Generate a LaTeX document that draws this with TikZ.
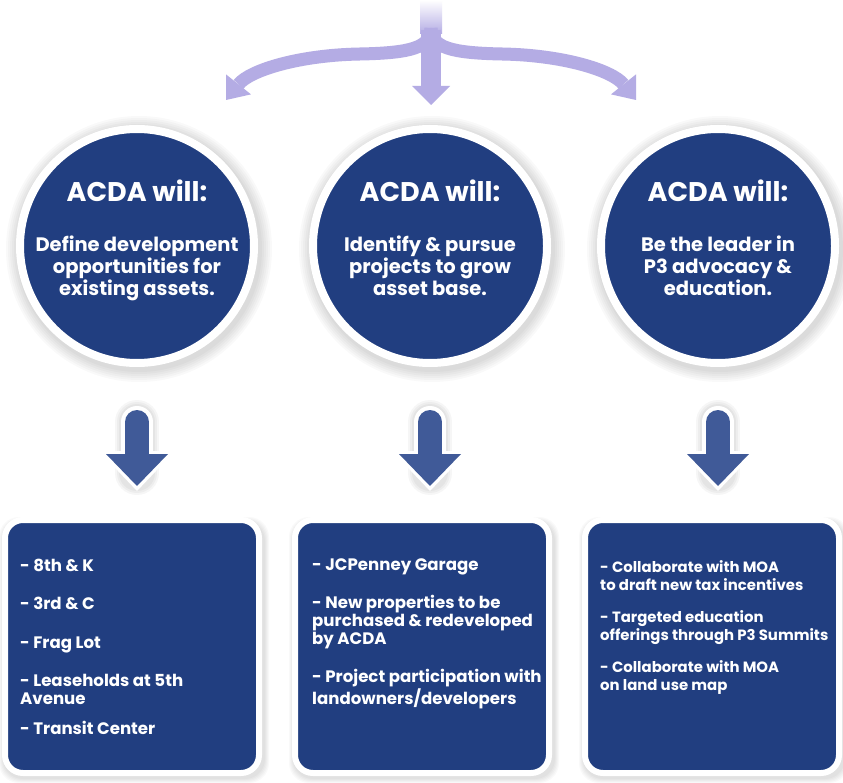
\documentclass[tikz,border=0pt]{standalone}
\usepackage{fontspec}
\setmainfont{Poppins}
\usetikzlibrary{arrows.meta}

\definecolor{navy}{RGB}{33,62,128}
\definecolor{arrowblue}{RGB}{64,90,152}
\definecolor{lav}{RGB}{180,172,228}

\tikzset{
  disc/.style={circle, fill=navy, draw=white, line width=8pt, minimum size=234pt, inner sep=0pt},
  panel/.style={rectangle, rounded corners=18pt, fill=navy, draw=white, line width=6pt,
                minimum width=254pt, minimum height=253pt, inner sep=0pt},
  heading/.style={text=white, font=\bfseries\fontsize{27}{30}\selectfont, inner sep=0pt, anchor=base},
  body/.style={text=white, font=\bfseries\fontsize{19.5}{22}\selectfont, align=center, inner sep=0pt, anchor=north},
  listtext/.style={text=white, font=\bfseries\fontsize{16.6}{18}\selectfont, align=left, inner sep=0pt, anchor=north west},
  smalllist/.style={listtext, font=\bfseries\fontsize{14.9}{18}\selectfont},
  branch/.style={draw=lav, line width=13pt, -{Triangle[width=32pt,length=20pt,line width=0pt]}},
  arrowglow/.style={draw=black, opacity=0.035, line cap=round},
  downhalo/.style={draw=white, line width=32pt, line cap=round, -{Triangle[width=76pt,length=40pt,line width=0pt]}},
  downarrow/.style={draw=arrowblue, line width=24pt, line cap=round, -{Triangle[width=62pt,length=32pt,line width=0pt]}},
}

\begin{document}
\begin{tikzpicture}[x=1pt,y=-1pt]
\useasboundingbox[fill=white] (0,0) rectangle (843,783);

% three-way split arrow at the top
\shade[top color=white, bottom color=lav] (420,0) rectangle (442,34);
\draw[branch] (431,28) .. controls (431,48) and (410,53) .. (360,54)
              .. controls (300,55) and (250,70) .. (226,100);
\draw[branch] (431,28) .. controls (431,48) and (452,53) .. (502,54)
              .. controls (562,55) and (612,70) .. (636,100);
\draw[draw=lav, line width=20pt, -{Triangle[width=38pt,length=19pt,line width=0pt]}] (431,30) -- (431,105);

% soft shadows under the discs
\foreach \cx in {137,430,718}{
  \foreach \k in {1,...,6}{
    \fill[black, opacity=0.025] (\cx+2,249) circle ({121+2*\k});
  }
}

% discs
\node[disc] (c1) at (137,246) {};
\node[disc] (c2) at (430,246) {};
\node[disc] (c3) at (718,246) {};

\node[heading] (h1) at (137,202) {ACDA will:};
\node[heading] (h2) at (430,202) {ACDA will:};
\node[heading] (h3) at (718,202) {ACDA will:};

\node[body] (d1) at (137,235.5) {Define development\\opportunities for\\existing assets.};
\node[body] (d2) at (430,235.5) {Identify \& pursue\\projects to grow\\asset base.};
\node[body] (d3) at (718,235.5) {Be the leader in\\P3 advocacy \&\\education.};

% soft shadows under the panels
\foreach \cx in {132,422,712}{
  \foreach \k in {1,...,5}{
    \fill[black, opacity=0.025, rounded corners=20pt]
      (\cx-130-\k+2,520-\k+2) rectangle (\cx+130+\k+2,776+\k+2);
  }
}

% panels
\node[panel] (b1) at (132,646.5) {};
\node[panel] (b2) at (422,646.5) {};
\node[panel] (b3) at (712,646.5) {};

% block arrows from each disc down to its panel
\foreach \c/\b in {c1/b1,c2/b2,c3/b3}{
  \foreach \w in {36,40,44}{
    \draw[arrowglow, line width=\w pt, shorten <=55pt, shorten >=44pt] (\c.south) -- (\c.south |- \b.north);
  }
  \draw[downhalo, shorten <=55pt, shorten >=26pt] (\c.south) -- (\c.south |- \b.north);
  \draw[downarrow, shorten <=55pt, shorten >=31pt] (\c.south) -- (\c.south |- \b.north);
}

% panel texts
\node[listtext] (t1) at (20,559) {- 8th \& K\\[20pt]
- 3rd \& C\\[21pt]
- Frag Lot\\[20pt]
- Leaseholds at 5th\\
Avenue\\[12pt]
- Transit Center};

\node[listtext] (t2) at (312,559) {- JCPenney Garage\\[20pt]
- New properties to be\\
purchased \& redeveloped\\
by ACDA\\[20pt]
- Project participation with\\
landowners/developers};

\node[smalllist] (t3) at (600,560) {- Collaborate with MOA\\
to draft new tax incentives\\[14pt]
- Targeted education\\
offerings through P3 Summits\\[14pt]
- Collaborate with MOA\\
on land use map};

\end{tikzpicture}
\end{document}
